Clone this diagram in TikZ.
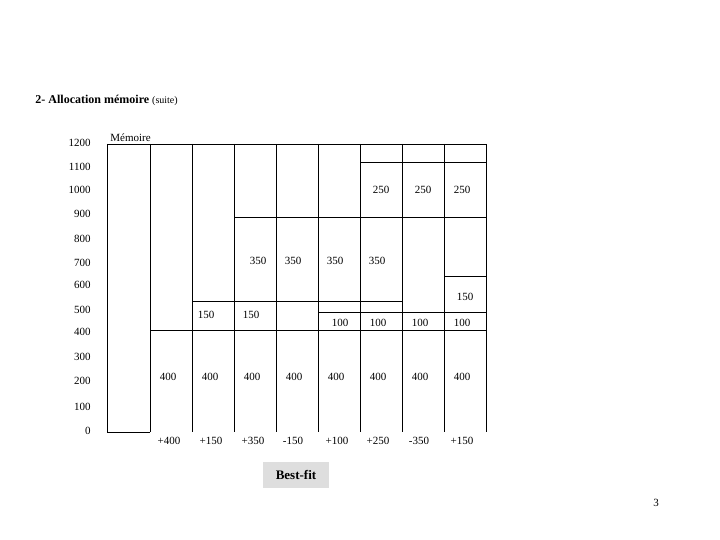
\documentclass[tikz,border=0pt]{standalone}
\usepackage{fontspec}
\setmainfont{Liberation Serif}
\begin{document}
\begin{tikzpicture}[x=1pt,y=-1pt,line width=0.9pt,
  lab/.style={font=\fontsize{11}{12}\selectfont,inner sep=0pt},
  ax/.style={font=\fontsize{11}{12}\selectfont,inner sep=0pt,anchor=east}]
\useasboundingbox (0,0) rectangle (720,540);
% frame
\draw (107,144) -- (486,144);
\draw (107,144) -- (107,432) -- (150,432);
\foreach \x in {150,192,234,276,318,360,402,444,486} \draw (\x,144) -- (\x,432);
\draw (360,162) -- (486,162);
\draw (234,217) -- (486,217);
\draw (444,276) -- (486,276);
\draw (192,301) -- (402,301);
\draw (318,312) -- (486,312);
\draw (150,330) -- (486,330);
% axis labels
\foreach \v/\y in {1200/143,1100/167,1000/190,900/214,800/239,700/263,600/285,500/310,400/332,300/357,200/381,100/407,0/431}
  \node[ax] (a\v) at (91,\y) {\v};
\node[lab,anchor=south west] (mem) at (110,142) {Mémoire};
\node[anchor=west,inner sep=0pt] (title) at (35,100) {\fontsize{12}{14}\selectfont\bfseries 2- Allocation mémoire\ \fontsize{10}{12}\mdseries(suite)};
% block labels
\foreach \x in {168,210,252,294,336,378,420,462} \node[lab] at (\x,377) {400};
\foreach \x in {206,251} \node[lab] at (\x,315) {150};
\foreach \x in {258,293,335,377} \node[lab] at (\x,261) {350};
\foreach \x in {381,423,462} \node[lab] at (\x,190) {250};
\node[lab] (c8) at (465,297) {150};
\foreach \x in {340,378,420,462} \node[lab] at (\x,323) {100};
\foreach \x/\t in {169/+400,211/+150,253/+350,293/-150,337/+100,378/+250,419/-350,462/+150}
  \node[lab] at (\x,441) {\t};
\node[draw=none,fill=black!13,minimum width=66pt,minimum height=26pt,inner sep=0pt,font=\fontsize{13}{14}\selectfont\bfseries] (bf) at (296,475) {Best-fit};
\node[lab] (pg) at (656,503) {3};
\end{tikzpicture}
\end{document}
